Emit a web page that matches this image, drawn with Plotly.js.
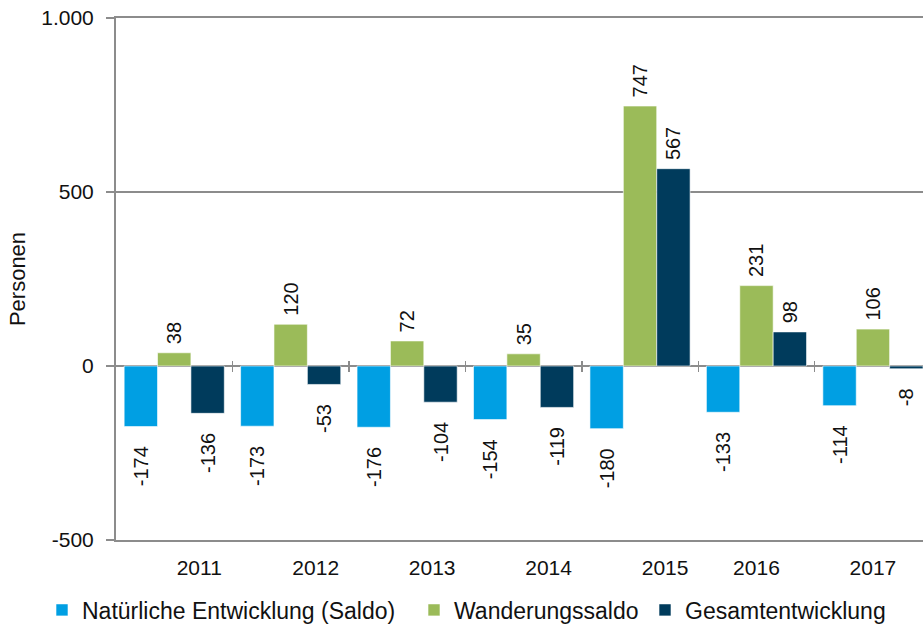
<!DOCTYPE html>
<html>
<head>
<meta charset="utf-8">
<script src="https://cdn.plot.ly/plotly-3.0.1.min.js"></script>
<style>html,body{margin:0;padding:0;overflow:hidden;background:#fff}#chart{width:923px;height:632px}</style>
</head>
<body>
<div id="chart"></div>
<script>
const years = ["2011", "2012", "2013", "2014", "2015", "2016", "2017"];
const natuerlich = [-174, -173, -176, -154, -180, -133, -114];
const wanderung = [38, 120, 72, 35, 747, 231, 106];
const gesamt = [-136, -53, -104, -119, 567, 98, -8];
const seriesNames = ["Natürliche Entwicklung (Saldo)", "Wanderungssaldo", "Gesamtentwicklung"];
const yTickVals = [-500, 0, 500, 1000];
const yTickText = ["-500", "0", "500", "1.000"];

const FONT = "Liberation Sans, Arial, sans-serif";
const colors = ["#009FE3", "#9BBB59", "#003B5C"];
const GRID = "#8c8c8c";
const idx = years.map((_, i) => i);
const xRange = [-0.5, 6.43];
const legendIds = ["legend", "legend2", "legend3"];

// small spacer so the labels sit a little away from the bar ends
function labelText(v) {
  return v >= 0 ? "\u00a0" + String(v) : String(v) + "\u00a0\u00a0\u00a0";
}

function barTrace(vals, k) {
  return {
    type: "bar",
    name: seriesNames[k],
    legend: legendIds[k],
    x: idx,
    y: vals,
    xaxis: "x",
    yaxis: "y",
    marker: {color: colors[k], line: {color: "rgba(255,255,255,0.6)", width: 1}},
    text: vals.map(labelText),
    textposition: "outside",
    textangle: -90,
    constraintext: "none",
    cliponaxis: false,
    textfont: {family: FONT, size: 20, color: "#111"},
    hoverinfo: "skip"
  };
}

const data = [barTrace(natuerlich, 0), barTrace(wanderung, 1), barTrace(gesamt, 2)];

// label shift used by the original layout (first groups offset to the right)
const labelPos = idx.map(i => i + (i < 5 ? 0.215 : 0));
const boundaries = idx.map(i => i + 0.5);

function legendAt(px) {
  return {
    orientation: "h",
    x: (px - 116) / 807, xanchor: "left",
    y: -0.134, yanchor: "middle",
    font: {family: FONT, size: 23, color: "#111"},
    bgcolor: "rgba(0,0,0,0)",
    itemclick: false
  };
}

const layout = {
  width: 923,
  height: 632,
  margin: {l: 116, r: 0, t: 18, b: 90},
  paper_bgcolor: "#fff",
  plot_bgcolor: "#fff",
  font: {family: FONT, color: "#111"},
  barmode: "group",
  bargap: 0.14,
  bargroupgap: 0,
  showlegend: true,
  legend: legendAt(42),
  legend2: legendAt(414),
  legend3: legendAt(645),
  xaxis: {
    type: "linear",
    range: xRange,
    tickvals: labelPos,
    ticktext: years,
    ticks: "",
    showline: true,
    mirror: true,
    linecolor: GRID,
    linewidth: 2,
    showgrid: false,
    zeroline: false,
    tickfont: {family: FONT, size: 21, color: "#111"},
    ticklabelstandoff: 8,
    fixedrange: true
  },
  xaxis2: {
    type: "linear",
    overlaying: "x",
    anchor: "free",
    position: 1 / 3,
    side: "bottom",
    range: xRange,
    tickvals: boundaries,
    ticks: "outside",
    ticklen: 5,
    tickwidth: 1.5,
    tickcolor: GRID,
    showticklabels: false,
    showline: false,
    showgrid: false,
    zeroline: false
  },
  xaxis3: {
    type: "linear",
    overlaying: "x",
    anchor: "free",
    position: 1 / 3,
    side: "top",
    range: xRange,
    tickvals: boundaries,
    ticks: "outside",
    ticklen: 5,
    tickwidth: 1.5,
    tickcolor: GRID,
    showticklabels: false,
    showline: false,
    showgrid: false,
    zeroline: false
  },
  yaxis: {
    range: [-500, 1000],
    tickvals: yTickVals,
    ticktext: yTickText,
    ticks: "outside",
    ticklen: 8,
    tickwidth: 2,
    tickcolor: GRID,
    showline: true,
    linecolor: GRID,
    linewidth: 2,
    showgrid: true,
    gridcolor: GRID,
    gridwidth: 2,
    zeroline: true,
    zerolinecolor: GRID,
    zerolinewidth: 2,
    tickfont: {family: FONT, size: 21, color: "#111"},
    ticklabelstandoff: 8,
    title: {text: "Personen", font: {family: FONT, size: 22, color: "#111"}, standoff: 10},
    fixedrange: true
  }
};

// invisible helper traces so the overlay axes are drawn
data.push({type: "scatter", x: [], y: [], xaxis: "x2", yaxis: "y", showlegend: false, hoverinfo: "skip"});
data.push({type: "scatter", x: [], y: [], xaxis: "x3", yaxis: "y", showlegend: false, hoverinfo: "skip"});

Plotly.newPlot("chart", data, layout, {displayModeBar: false, staticPlot: true});
</script>
</body>
</html>
